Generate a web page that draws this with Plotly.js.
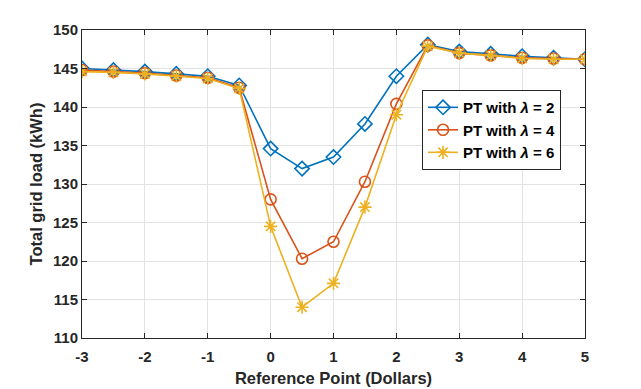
<!DOCTYPE html>
<html>
<head>
<meta charset="utf-8">
<script src="https://cdn.plot.ly/plotly-3.0.1.min.js"></script>
<style>
  body { margin: 0; background: #fff; }
  #plot { width: 641px; height: 389px; }
</style>
</head>
<body>
<div id="plot"></div>
<script>
const refPoint = [-3, -2.5, -2, -1.5, -1, -0.5, 0, 0.5, 1, 1.5, 2, 2.5, 3, 3.5, 4, 4.5, 5];

const loadLambda2 = [145.0, 144.8, 144.6, 144.3, 144.0, 142.8, 134.6, 132.0, 133.5, 137.8, 144.0, 148.1, 147.2, 146.9, 146.6, 146.4, 146.2];
const loadLambda4 = [144.8, 144.6, 144.4, 144.1, 143.8, 142.5, 128.0, 120.3, 122.5, 130.3, 140.4, 148.0, 147.0, 146.7, 146.4, 146.3, 146.2];
const loadLambda6 = [144.6, 144.5, 144.3, 144.0, 143.7, 142.4, 124.5, 114.0, 117.1, 127.0, 139.0, 147.9, 147.0, 146.7, 146.3, 146.2, 146.2];

const xTickVals = [-3, -2, -1, 0, 1, 2, 3, 4, 5];
const xTickText = ['-3', '-2', '-1', '0', '1', '2', '3', '4', '5'];
const yTickVals = [110, 115, 120, 125, 130, 135, 140, 145, 150];

const seriesNames = ['PT with <i>λ</i> = 2', 'PT with <i>λ</i> = 4', 'PT with <i>λ</i> = 6'];
const colors = ['#0072BD', '#D95319', '#EDB120'];
const symbols = ['diamond-open', 'circle-open', 'asterisk-open'];

const allLoads = [loadLambda2, loadLambda4, loadLambda6];
const data = allLoads.map((ys, i) => ({
    x: refPoint,
    y: ys,
    type: 'scatter',
    mode: 'lines+markers',
    name: seriesNames[i],
    line: { color: colors[i], width: 1.6 },
    marker: { symbol: symbols[i], size: 11, color: colors[i], line: { width: 1.6, color: colors[i] } }
}));

const fam = 'Liberation Sans, Arial, sans-serif';
const tickFont = { family: fam, size: 15, color: '#262626', weight: 'bold' };
const titleFont = { family: fam, size: 16.5, color: '#262626', weight: 'bold' };

const layout = {
    width: 641,
    height: 389,
    margin: { l: 82, r: 56, t: 30, b: 51 },
    paper_bgcolor: '#fff',
    plot_bgcolor: '#fff',
    font: tickFont,
    showlegend: true,
    legend: {
        x: 0.676, y: 0.805, xanchor: 'left', yanchor: 'top',
        bgcolor: '#fff', bordercolor: '#262626', borderwidth: 1,
        font: { family: fam, size: 15, color: '#000', weight: 'bold' },
        tracegroupgap: 0
    },
    xaxis: {
        range: [-3, 5],
        tickvals: xTickVals,
        ticktext: xTickText,
        ticks: 'inside', ticklen: 5, tickcolor: '#262626',
        ticklabelstandoff: 5,
        showline: true, linecolor: '#262626', linewidth: 1, mirror: 'ticks',
        showgrid: true, gridcolor: '#e3e3e3',
        zeroline: false,
        tickfont: tickFont,
        title: { text: 'Reference Point (Dollars)', font: titleFont, standoff: 8 }
    },
    yaxis: {
        range: [110, 150],
        tickvals: yTickVals,
        ticks: 'inside', ticklen: 5, tickcolor: '#262626',
        showline: true, linecolor: '#262626', linewidth: 1, mirror: 'ticks',
        showgrid: true, gridcolor: '#e3e3e3',
        zeroline: false,
        tickfont: tickFont,
        title: { text: 'Total grid load (kWh)', font: titleFont, standoff: 6 }
    }
};

Plotly.newPlot('plot', data, layout, { displayModeBar: false, staticPlot: true });
</script>
</body>
</html>
